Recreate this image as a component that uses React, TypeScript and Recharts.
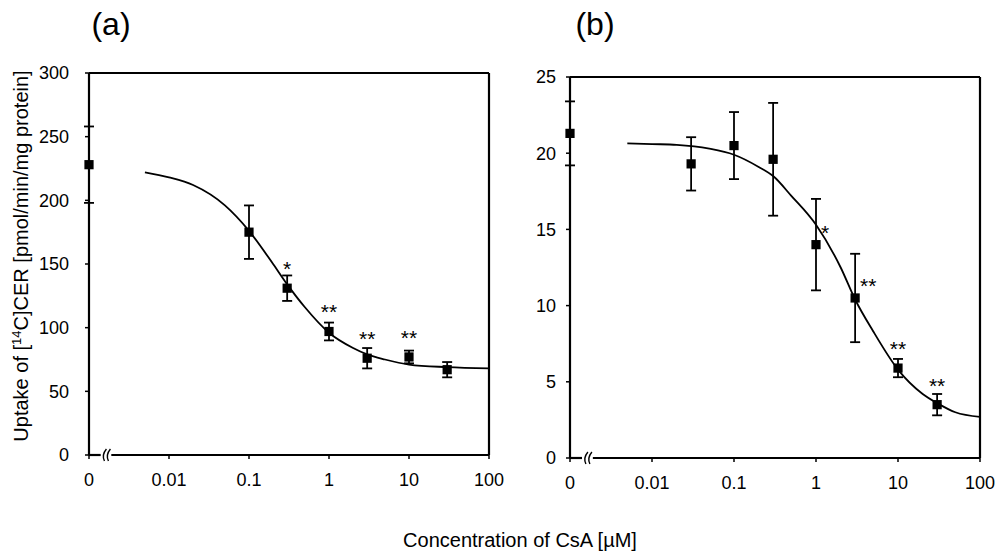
import React from "react";
import {
  ComposedChart, Line, Scatter, XAxis, YAxis, ZAxis, ErrorBar,
  LabelList, ReferenceLine, ReferenceDot,
} from "recharts";

// CsA concentrations (µM); 0 is drawn at the axis break position
const concA = [0, 0.1, 0.3, 1, 3, 10, 30];
const uptakeA = [228, 175, 131, 97, 76, 77, 67];
const semA = [30, 21, 10, 7, 8, 5, 6];
const sigA = ["", "", "*", "**", "**", "**", ""];

const fitConcA = [0.005, 0.01, 0.02, 0.05, 0.1, 0.2, 0.3, 0.5, 1, 2, 3, 5, 10, 30, 100];
const fitA = [222, 218, 212, 196, 176, 150, 134, 116, 96, 84, 79, 75, 71, 69, 68];

const concB = [0, 0.03, 0.1, 0.3, 1, 3, 10, 30];
const uptakeB = [21.3, 19.3, 20.5, 19.6, 14.0, 10.5, 5.9, 3.5];
const semB = [2.1, 1.75, 2.2, 3.7, 3.0, 2.9, 0.6, 0.7];
const sigB = ["", "", "", "", "*", "**", "**", "**"];

const fitConcB = [0.005, 0.01, 0.02, 0.05, 0.1, 0.2, 0.3, 0.5, 1, 2, 3, 5, 10, 20, 30, 50, 100];
const fitB = [20.65, 20.6, 20.55, 20.3, 19.9, 19.1, 18.5, 17.2, 15.3, 12.5, 10.4, 8.3, 5.8, 4.2, 3.6, 3.0, 2.7];

const xTicks = [0.001, 0.01, 0.1, 1, 10, 100];
const yTicksA = [0, 50, 100, 150, 200, 250, 300];
const yTicksB = [0, 5, 10, 15, 20, 25];

const ZERO_X = 0.001; // where "0" sits on the log axis
const BREAK_X = 0.0017;
const FONT = "'Liberation Sans', Arial, sans-serif";

const toPoints = (c: number[], y: number[], e: number[], s: string[]) =>
  c.map((x, i) => ({ x: x === 0 ? ZERO_X : x, y: y[i], err: e[i], sig: s[i] }));
const toCurve = (c: number[], y: number[]) => c.map((x, i) => ({ x, y: y[i] }));

const fmtX = (v: number) => (v === ZERO_X ? "0" : String(v));

function BreakMark(props: any) {
  const { cx, cy } = props;
  if (cx == null) return null;
  return (
    <g stroke="#000" strokeWidth={1.4} fill="none">
      <path d={`M${cx - 3},${cy + 6} Q${cx - 6},${cy} ${cx - 1},${cy - 6}`} />
      <path d={`M${cx + 1},${cy + 6} Q${cx - 2},${cy} ${cx + 3},${cy - 6}`} />
    </g>
  );
}

function starLabel(sem: number[], bigErr: number) {
  return (props: any) => {
    const { x, y, width, height, value, index } = props;
    if (!value) return null;
    const cx = x + width / 2;
    const cy = y + height / 2;
    const side = sem[index] > bigErr;
    return (
      <text
        x={side ? cx + 5 : cx}
        y={side ? cy - 17 + 12 : cy - 24 + 12}
        textAnchor={side ? "start" : "middle"}
        fontSize={21}
        fontFamily={FONT}
        fill="#000"
      >
        {value}
      </text>
    );
  };
}

interface PanelProps {
  points: { x: number; y: number; err: number; sig: string }[];
  curve: { x: number; y: number }[];
  yMax: number;
  yTicks: number[];
  sem: number[];
  bigErr: number;
  margin: { top: number; right: number; left: number; bottom: number };
  tickGap: number;
  width: number;
}

function Panel({ points, curve, yMax, yTicks, sem, bigErr, margin, tickGap, width }: PanelProps) {
  const tick = { fontSize: 18, fill: "#000", fontFamily: FONT };
  return (
    <ComposedChart width={width} height={500} margin={margin}>
      <XAxis
        type="number"
        dataKey="x"
        scale="log"
        domain={[ZERO_X, 100]}
        ticks={xTicks}
        tickFormatter={fmtX}
        tick={tick}
        axisLine={false}
        tickLine={{ stroke: "#000", strokeWidth: 1.5 }}
        tickSize={4}
        tickMargin={14}
        height={40}
      />
      <YAxis
        type="number"
        domain={[0, yMax]}
        ticks={yTicks}
        tick={tick}
        axisLine={{ stroke: "#000", strokeWidth: 2.2 }}
        tickLine={{ stroke: "#000", strokeWidth: 1.5 }}
        tickSize={4}
        tickMargin={tickGap}
        width={60}
      />
      <ZAxis range={[85, 85]} />
      <ReferenceLine segment={[{ x: ZERO_X, y: 0 }, { x: 0.0014, y: 0 }]} stroke="#000" strokeWidth={2.2} />
      <ReferenceLine segment={[{ x: 0.0019, y: 0 }, { x: 100, y: 0 }]} stroke="#000" strokeWidth={2.2} />
      <ReferenceLine y={yMax} stroke="#000" strokeWidth={1.8} />
      <ReferenceLine x={100} stroke="#000" strokeWidth={2.2} />
      <ReferenceDot x={BREAK_X} y={0} shape={BreakMark} />
      <Line
        data={curve}
        dataKey="y"
        type="monotone"
        stroke="#000"
        strokeWidth={1.8}
        dot={false}
        isAnimationActive={false}
      />
      <Scatter data={points} dataKey="y" fill="#000" shape="square" isAnimationActive={false}>
        <ErrorBar dataKey="err" direction="y" width={5} stroke="#000" strokeWidth={1.8} />
        <LabelList dataKey="sig" content={starLabel(sem, bigErr)} />
      </Scatter>
    </ComposedChart>
  );
}

export default function App() {
  return (
    <div style={{ position: "absolute", left: 0, top: 0, width: 1002, height: 553, background: "#fff" }}>
      <div style={{ position: "absolute", left: 0, top: 0 }}>
        <Panel
          points={toPoints(concA, uptakeA, semA, sigA)}
          curve={toCurve(fitConcA, fitA)}
          yMax={300}
          yTicks={yTicksA}
          sem={semA}
          bigErr={1000}
          margin={{ top: 73, right: 31, left: 29, bottom: 5 }}
          tickGap={16}
          width={520}
        />
      </div>
      <div style={{ position: "absolute", left: 500, top: 0 }}>
        <Panel
          points={toPoints(concB, uptakeB, semB, sigB)}
          curve={toCurve(fitConcB, fitB)}
          yMax={25}
          yTicks={yTicksB}
          sem={semB}
          bigErr={2}
          margin={{ top: 77, right: 22, left: 10, bottom: 2 }}
          tickGap={10}
          width={502}
        />
      </div>
      <svg width={1002} height={553} style={{ position: "absolute", left: 0, top: 0, pointerEvents: "none" }}>
        <text x={111} y={35} textAnchor="middle" fontSize={32} fontFamily={FONT} fill="#000">(a)</text>
        <text x={595} y={35} textAnchor="middle" fontSize={32} fontFamily={FONT} fill="#000">(b)</text>
        <text
          x={28}
          y={256}
          transform="rotate(-90 28 256)"
          textAnchor="middle"
          fontSize={20}
          fontFamily={FONT}
          fill="#000"
        >
          Uptake of [<tspan fontSize={13} dy={-7}>14</tspan>
          <tspan dy={7}>C]CER [pmol/min/mg protein]</tspan>
        </text>
        <text x={520} y={547} textAnchor="middle" fontSize={20} fontFamily={FONT} fill="#000">
          Concentration of CsA [µM]
        </text>
      </svg>
    </div>
  );
}
